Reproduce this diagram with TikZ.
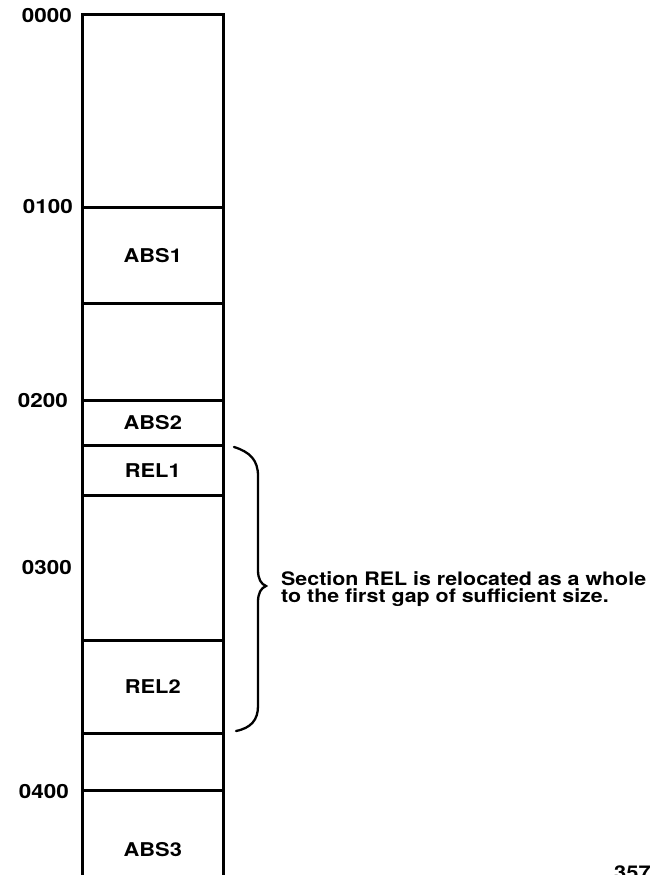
\documentclass[tikz,border=0pt]{standalone}
\usepackage{fontspec}
\newfontfamily\helv[FakeStretch=1.15]{TeX Gyre Heros}
\begin{document}
\begin{tikzpicture}[x=1pt,y=-1pt,
  seg/.style={draw, line width=2.6pt, minimum width=141pt, anchor=north west,
    inner sep=0pt, font=\helv\bfseries\fontsize{19}{19}\selectfont},
  addr/.style={anchor=east, inner sep=0pt, font=\helv\bfseries\fontsize{19.5}{20}\selectfont},
  brace/.style={line width=2.3pt, line cap=round}]
\useasboundingbox (0,0) rectangle (650,875);
% memory column segments
\node[seg, minimum height=193pt] (s0) at (81,13) {};
\node[seg, minimum height=96pt] (abs1) at (81,206) {ABS1};
\node[seg, minimum height=97pt] (s2) at (81,302) {};
\node[seg, minimum height=45pt] (abs2) at (81,399) {ABS2};
\node[seg, minimum height=50pt] (rel1) at (81,444) {REL1};
\node[seg, minimum height=145pt] (s5) at (81,494) {};
\node[seg, minimum height=93pt] (rel2) at (81,639) {REL2};
\node[seg, minimum height=57pt] (s7) at (81,732) {};
\node[seg, minimum height=118pt] (abs3) at (81,789) {ABS3};
% addresses
\node[addr] (a0) at (72,16) {0000};
\node[addr] (a1) at (73,207) {0100};
\node[addr] (a2) at (68,401) {0200};
\node[addr] (a3) at (72,568) {0300};
\node[addr] (a4) at (69,792) {0400};
% brace
\coordinate (btop) at (234,447);
\coordinate (btip) at (266,586);
\coordinate (bbot) at (236,731);
\draw[brace] (btop) .. controls (250,452) and (258,460) .. (258,476)
  -- (258,570) .. controls (258,579) and (261,584) .. (btip)
  .. controls (261,588) and (258,593) .. (258,602)
  -- (258,706) .. controls (258,720) and (251,728) .. (bbot);
\node[anchor=west, align=left, inner sep=0pt,
  font=\helv\bfseries\fontsize{18.6}{17}\selectfont] (txt) at (281,589)
  {Section REL is relocated as a whole\\to the first gap of sufficient size.};
\node[anchor=north west, inner sep=0pt,
  font=\helv\bfseries\fontsize{19}{19}\selectfont] (pg) at (614,866) {357};
\end{tikzpicture}
\end{document}
